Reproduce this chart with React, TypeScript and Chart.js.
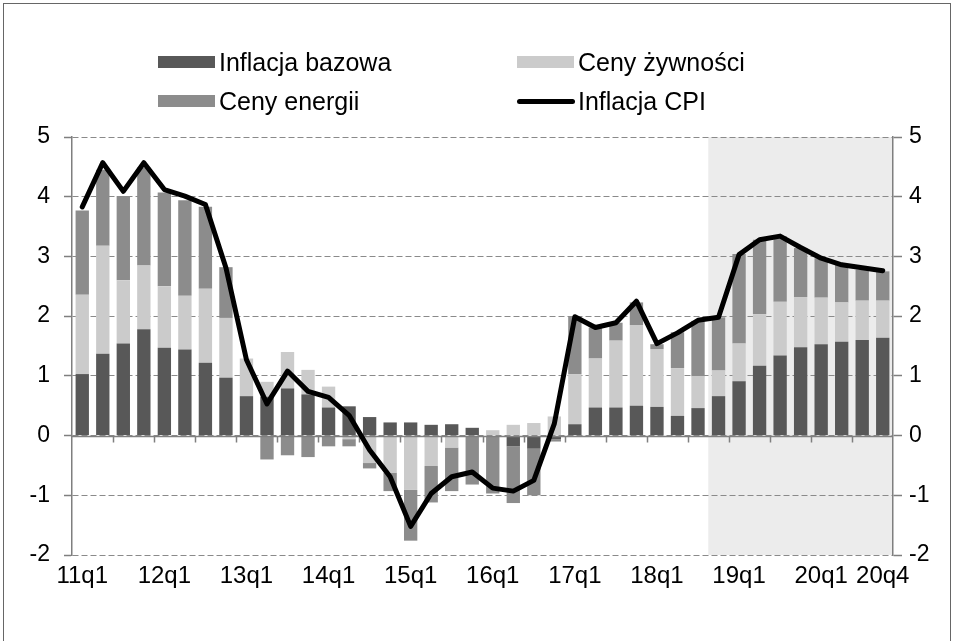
import React, { useEffect, useRef } from 'react';
import { Chart, registerables } from 'chart.js';

Chart.register(...registerables);

const quarters = [
  '11q1', '11q2', '11q3', '11q4', '12q1', '12q2', '12q3', '12q4',
  '13q1', '13q2', '13q3', '13q4', '14q1', '14q2', '14q3', '14q4',
  '15q1', '15q2', '15q3', '15q4', '16q1', '16q2', '16q3', '16q4',
  '17q1', '17q2', '17q3', '17q4', '18q1', '18q2', '18q3', '18q4',
  '19q1', '19q2', '19q3', '19q4', '20q1', '20q2', '20q3', '20q4',
];
const shownLabels = ['11q1', '12q1', '13q1', '14q1', '15q1', '16q1', '17q1', '18q1', '19q1', '20q1', '20q4'];

const coreInflation = [
  1.03, 1.37, 1.54, 1.78, 1.47, 1.44, 1.22, 0.97,
  0.66, 0.65, 0.79, 0.69, 0.47, 0.49, 0.31, 0.22,
  0.22, 0.18, 0.19, 0.13, 0.0, -0.18, -0.22, -0.06,
  0.19, 0.47, 0.47, 0.50, 0.48, 0.33, 0.46, 0.66,
  0.91, 1.17, 1.34, 1.48, 1.53, 1.57, 1.60, 1.64,
];
const foodPrices = [
  1.33, 1.81, 1.06, 1.07, 1.03, 0.90, 1.24, 1.00,
  0.63, 0.25, 0.61, 0.41, 0.35, -0.06, -0.46, -0.62,
  -0.91, -0.51, -0.20, 0.0, 0.09, 0.18, 0.21, 0.32,
  0.84, 0.82, 1.12, 1.35, 0.97, 0.80, 0.53, 0.43,
  0.63, 0.86, 0.90, 0.84, 0.78, 0.66, 0.66, 0.62,
];
const energyPrices = [
  1.41, 1.27, 1.41, 1.64, 1.57, 1.60, 1.37, 0.85,
  0.0, -0.40, -0.33, -0.36, -0.18, -0.12, -0.09, -0.31,
  -0.85, -0.61, -0.73, -0.82, -0.97, -0.95, -0.78, -0.04,
  0.97, 0.52, 0.30, 0.38, 0.08, 0.60, 0.93, 0.89,
  1.50, 1.25, 1.10, 0.82, 0.66, 0.63, 0.52, 0.49,
];
const cpiInflation = [
  3.83, 4.57, 4.09, 4.57, 4.12, 4.01, 3.87, 2.81,
  1.27, 0.53, 1.08, 0.74, 0.64, 0.34, -0.24, -0.69,
  -1.52, -0.97, -0.69, -0.61, -0.88, -0.93, -0.75, 0.20,
  1.99, 1.81, 1.89, 2.25, 1.54, 1.72, 1.93, 1.98,
  3.03, 3.28, 3.34, 3.15, 2.97, 2.86, 2.81, 2.76,
];
const forecastStart = '18q4';
const yMin = -2;
const yMax = 5;

const COLOR_CORE = '#585858';
const COLOR_FOOD = '#cbcbcb';
const COLOR_ENERGY = '#8c8c8c';
const COLOR_SHADE = '#ececec';
const COLOR_AXIS = '#7f7f7f';
const FONT = '"Liberation Sans", Arial, sans-serif';

const shadePlugin = {
  id: 'shadeForecast',
  beforeDraw(chart: any) {
    const { ctx, chartArea } = chart;
    const x = chart.scales.x;
    const idx = quarters.indexOf(forecastStart);
    const left = (x.getPixelForValue(idx - 1) + x.getPixelForValue(idx)) / 2;
    ctx.save();
    ctx.fillStyle = COLOR_SHADE;
    ctx.fillRect(left, chartArea.top, chartArea.right - left, chartArea.bottom - chartArea.top);
    ctx.restore();
  },
};

const zeroAxisPlugin = {
  id: 'zeroAxis',
  beforeDatasetDraw(chart: any, args: any) {
    if (args.index !== 0) return;
    const { ctx, chartArea } = chart;
    const x = chart.scales.x;
    const y = chart.scales.y;
    const y0 = Math.round(y.getPixelForValue(0)) + 0.5;
    ctx.save();
    ctx.strokeStyle = COLOR_AXIS;
    ctx.lineWidth = 1.5;
    ctx.beginPath();
    ctx.moveTo(chartArea.left, y0);
    ctx.lineTo(chartArea.right, y0);
    for (let i = 2; i < quarters.length; i += 2) {
      const bx = Math.round((x.getPixelForValue(i - 1) + x.getPixelForValue(i)) / 2) + 0.5;
      ctx.moveTo(bx, y0);
      ctx.lineTo(bx, y0 + 6);
    }
    ctx.stroke();
    ctx.restore();
  },
};

function LegendItem(props: { left: number; top: number; color: string; line?: boolean; text: string }) {
  const { left, top, color, line, text } = props;
  return (
    <div
      style={{
        position: 'absolute',
        left,
        top,
        height: 26,
        display: 'flex',
        alignItems: 'center',
        fontFamily: FONT,
        fontSize: 25,
        color: '#000',
        whiteSpace: 'nowrap',
      }}
    >
      {line ? (
        <div style={{ width: 58, height: 5, background: '#000', borderRadius: 3, marginRight: 3 }} />
      ) : (
        <div style={{ width: 57, height: 12, background: color, marginRight: 4 }} />
      )}
      <span>{text}</span>
    </div>
  );
}

export default function App() {
  const canvasRef = useRef<HTMLCanvasElement | null>(null);

  useEffect(() => {
    if (!canvasRef.current) return;
    const xTickFont = { family: FONT, size: 24 };
    const yTickFont = { family: FONT, size: 23 };
    const chart = new Chart(canvasRef.current, {
      type: 'bar',
      data: {
        labels: quarters,
        datasets: [
          {
            type: 'line',
            label: 'Inflacja CPI',
            data: cpiInflation,
            borderColor: '#000',
            borderWidth: 5,
            pointRadius: 0,
            tension: 0,
            borderJoinStyle: 'round',
            borderCapStyle: 'round',
            stack: 'cpi',
            order: 0,
          } as any,
          {
            label: 'Inflacja bazowa',
            data: coreInflation,
            backgroundColor: COLOR_CORE,
            stack: 'parts',
            order: 1,
            barPercentage: 0.65,
            categoryPercentage: 1,
          },
          {
            label: 'Ceny żywności',
            data: foodPrices,
            backgroundColor: COLOR_FOOD,
            stack: 'parts',
            order: 1,
            barPercentage: 0.65,
            categoryPercentage: 1,
          },
          {
            label: 'Ceny energii',
            data: energyPrices,
            backgroundColor: COLOR_ENERGY,
            stack: 'parts',
            order: 1,
            barPercentage: 0.65,
            categoryPercentage: 1,
          },
        ],
      },
      options: {
        responsive: false,
        animation: false,
        devicePixelRatio: 1,
        layout: { padding: { top: 137, left: 0, right: 0, bottom: 0 } },
        plugins: {
          legend: { display: false },
          tooltip: { enabled: false },
        },
        scales: {
          x: {
            stacked: true,
            grid: { display: false, drawTicks: false },
            border: { display: false },
            ticks: {
              autoSkip: false,
              maxRotation: 0,
              minRotation: 0,
              padding: 7,
              color: '#000',
              font: xTickFont,
              callback: (_v: any, i: number) => (shownLabels.includes(quarters[i]) ? quarters[i] : ''),
            },
            afterFit: (s: any) => {
              s.height = 86;
            },
          },
          y: {
            stacked: true,
            position: 'left',
            min: yMin,
            max: yMax,
            ticks: { stepSize: 1, padding: 14, color: '#000', font: yTickFont },
            grid: {
              color: '#8a8a8a',
              lineWidth: 1,
              tickLength: 8,
              tickColor: COLOR_AXIS,
              tickWidth: 1.5,
            },
            border: { display: true, color: COLOR_AXIS, width: 1.5, dash: [6, 3] },
            afterFit: (s: any) => {
              s.width = 72;
            },
          },
          y2: {
            position: 'right',
            min: yMin,
            max: yMax,
            ticks: { stepSize: 1, padding: 7, color: '#000', font: yTickFont },
            grid: {
              drawOnChartArea: false,
              tickLength: 9,
              tickColor: COLOR_AXIS,
              tickWidth: 1.5,
            },
            border: { display: true, color: COLOR_AXIS, width: 1.5 },
            afterFit: (s: any) => {
              s.width = 61;
            },
          },
        },
      },
      plugins: [shadePlugin, zeroAxisPlugin],
    } as any);
    return () => chart.destroy();
  }, []);

  return (
    <div style={{ position: 'absolute', left: 0, top: 0, width: 954, height: 641, overflow: 'hidden', background: '#fff' }}>
      <div
        style={{
          position: 'absolute',
          left: 3,
          top: 3,
          width: 946,
          height: 700,
          borderLeft: '1px solid #666',
          borderTop: '1px solid #666',
          borderRight: '1px solid #666',
        }}
      />
      <canvas ref={canvasRef} width={954} height={641} style={{ position: 'absolute', left: 0, top: 0 }} />
      <LegendItem left={158} top={49} color={COLOR_CORE} text="Inflacja bazowa" />
      <LegendItem left={517} top={49} color={COLOR_FOOD} text="Ceny żywności" />
      <LegendItem left={158} top={88} color={COLOR_ENERGY} text="Ceny energii" />
      <LegendItem left={517} top={88} color="#000" line text="Inflacja CPI" />
    </div>
  );
}
